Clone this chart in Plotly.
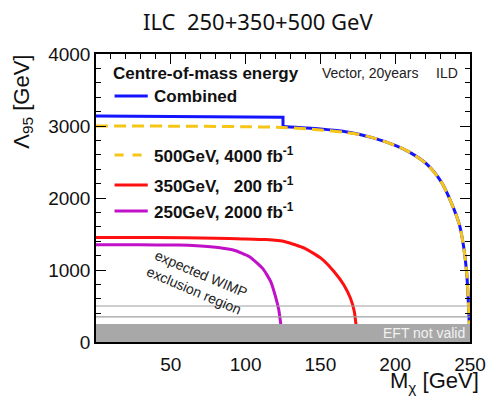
import plotly.graph_objects as go

# Expected 95% CL reach on the EFT scale Lambda vs. WIMP mass (vector operator, ILD)
mass_250 = [0, 20, 40, 55, 76.5, 91.8, 102.6, 111.4, 116.8, 120.0, 122.2, 123.3, 124.2, 125, 250]
lam_250 = [1350, 1350, 1348, 1347, 1324, 1278, 1185, 1023, 838, 630, 444, 282, 130, 0, 0]

mass_350 = [0, 40, 80, 98.3, 113.5, 126.5, 139.6, 150.5, 159.2, 165.7, 170.1, 172.7, 173.7, 174.5, 175, 250]
lam_350 = [1452, 1450, 1442, 1432, 1422, 1393, 1301, 1162, 976, 792, 607, 421, 260, 120, 0, 0]

mass_500 = [0, 50, 100, 125, 150, 165, 175, 185.3, 200, 209.2, 221.1, 230.9, 237.4, 242.9,
            245.7, 247.7, 248.7, 249.4, 250]
lam_500 = [3000, 2998, 2990, 2980, 2945, 2915, 2885, 2835, 2730, 2640, 2470, 2220, 1940, 1630,
           1330, 980, 640, 310, 0]

mass_comb_low = [0, 60, 125]
lam_comb_low = [3140, 3132, 3122]
mass_comb_high = [125, 150, 165, 175, 185.3, 200, 209.2, 221.1, 230.9, 237.4, 242.9,
                  245.7, 247.7, 248.7, 249.4, 250]
lam_comb_high = [2994, 2960, 2928, 2890, 2835, 2730, 2640, 2470, 2220, 1940, 1630,
                 1330, 980, 640, 310, 0]

eft_limit = 250          # below this Lambda the EFT is not valid
guide_levels = [350, 500]

x_ticks = [0, 50, 100, 150, 200, 250]
x_ticktext = ["", "50", "100", "150", "200", "250"]
y_ticks = [0, 1000, 2000, 3000, 4000]

BLUE = "#1414ff"
YELLOW = "#f5c518"
RED = "#ff1010"
MAGENTA = "#c010c8"
GREY = "#a8a8a8"

series_labels = [
    "500GeV, 4000 fb<sup>-1</sup>",
    "350GeV,   200 fb<sup>-1</sup>",
    "250GeV, 2000 fb<sup>-1</sup>",
]

fig = go.Figure()

# combined reach: flat part with the step at the 250 GeV threshold, then the 500 GeV tail
fig.add_trace(go.Scatter(x=mass_comb_low + [mass_comb_high[0]],
                         y=lam_comb_low + [lam_comb_high[0]],
                         mode="lines", line=dict(color=BLUE, width=3), showlegend=False))
fig.add_trace(go.Scatter(x=mass_comb_high, y=lam_comb_high, mode="lines",
                         line=dict(color=BLUE, width=3, shape="spline", smoothing=0.8),
                         showlegend=False))
fig.add_trace(go.Scatter(x=mass_500, y=lam_500, mode="lines",
                         line=dict(color=YELLOW, width=3, dash="12px,6px",
                                   shape="spline", smoothing=0.8),
                         showlegend=False))
fig.add_trace(go.Scatter(x=mass_350, y=lam_350, mode="lines",
                         line=dict(color=RED, width=3, shape="spline", smoothing=0.5),
                         showlegend=False))
fig.add_trace(go.Scatter(x=mass_250, y=lam_250, mode="lines",
                         line=dict(color=MAGENTA, width=3, shape="spline", smoothing=0.5),
                         showlegend=False))

shapes = []
# region where the EFT description breaks down
shapes.append(dict(type="rect", xref="paper", yref="y", x0=0, x1=1, y0=0, y1=eft_limit,
                   fillcolor=GREY, line=dict(width=0), layer="above"))
for lv in guide_levels:
    shapes.append(dict(type="line", xref="paper", yref="y", x0=0, x1=1, y0=lv, y1=lv,
                       line=dict(color="#a0a0a0", width=1.2), layer="above"))

# hand-placed legend (pixel layout: plot spans x 96..479, y 54..342)
L, R, T, B = 96, 479, 54, 342
def px(xp):
    return (xp - L) / (R - L)
def py(yp):
    return (B - yp) / (B - T)

legend_rows = [
    (96, BLUE, "solid", "Combined"),
    (155, YELLOW, "dash", series_labels[0]),
    (185, RED, "solid", series_labels[1]),
    (211, MAGENTA, "solid", series_labels[2]),
]
annotations = []
for yrow, col, dash, label in legend_rows:
    shapes.append(dict(type="line", xref="paper", yref="paper",
                       x0=px(115), x1=px(149), y0=py(yrow), y1=py(yrow),
                       line=dict(color=col, width=3, dash=dash)))
    annotations.append(dict(x=px(153), y=py(yrow), xref="paper", yref="paper",
                            text="<b>" + label + "</b>", showarrow=False,
                            xanchor="left", yanchor="middle",
                            font=dict(family="Liberation Sans", size=17, color="#111")))

annotations += [
    dict(x=px(111), y=py(73), xref="paper", yref="paper", text="<b>Centre-of-mass energy</b>",
         showarrow=False, xanchor="left", yanchor="middle",
         font=dict(family="Liberation Sans", size=17, color="#111")),
    dict(x=px(325), y=py(73), xref="paper", yref="paper", text="Vector, 20years",
         showarrow=False, xanchor="left", yanchor="middle",
         font=dict(family="Liberation Sans", size=14, color="#222")),
    dict(x=px(469), y=py(73), xref="paper", yref="paper", text="ILD",
         showarrow=False, xanchor="right", yanchor="middle",
         font=dict(family="Liberation Sans", size=14, color="#222")),
    dict(x=px(200), y=py(282), xref="paper", yref="paper",
         text="expected WIMP<br>exclusion region", showarrow=False, textangle=23,
         xanchor="center", yanchor="middle", align="center",
         font=dict(family="Liberation Sans", size=14, color="#222")),
    dict(x=px(476), y=py(333), xref="paper", yref="paper", text="EFT not valid",
         showarrow=False, xanchor="right", yanchor="middle",
         font=dict(family="Liberation Sans", size=14, color="#f2f2f2")),
    # axis titles
    dict(x=px(490), y=py(398), xref="paper", yref="paper", text="M<sub>χ</sub> [GeV]",
         showarrow=False, xanchor="right", yanchor="bottom",
         font=dict(family="Liberation Sans", size=22, color="#111")),
    dict(x=px(21), y=py(102), xref="paper", yref="paper", text="Λ<sub>95</sub> [GeV]",
         showarrow=False, textangle=-90, xanchor="center", yanchor="middle",
         font=dict(family="Liberation Sans", size=22, color="#111")),
    # title above the frame
    dict(x=px(262), y=py(21), xref="paper", yref="paper", text="ILC  250+350+500 GeV",
         showarrow=False, xanchor="center", yanchor="middle",
         font=dict(family="Noto Sans", size=22, color="#111")),
]

axis_common = dict(showgrid=False, zeroline=False, showline=True, linecolor="black",
                   linewidth=1.5, mirror="allticks", ticks="inside", ticklen=10,
                   tickcolor="black", tickwidth=1.2,
                   tickfont=dict(family="Liberation Sans", size=19, color="#111"))

fig.update_layout(
    width=498, height=398,
    margin=dict(l=L, r=498 - R, t=T, b=398 - B),
    paper_bgcolor="white", plot_bgcolor="white",
    xaxis=dict(range=[0, 250], tickvals=x_ticks, ticktext=x_ticktext, ticklabelstandoff=4,
               minor=dict(dtick=10, tick0=0, ticklen=5, ticks="inside", tickcolor="black"),
               **axis_common),
    yaxis=dict(range=[0, 4000], tickvals=y_ticks,
               minor=dict(dtick=200, tick0=0, ticklen=5, ticks="inside", tickcolor="black"),
               **axis_common),
    shapes=shapes,
    annotations=annotations,
    showlegend=False,
)

fig.write_html("out.html")
